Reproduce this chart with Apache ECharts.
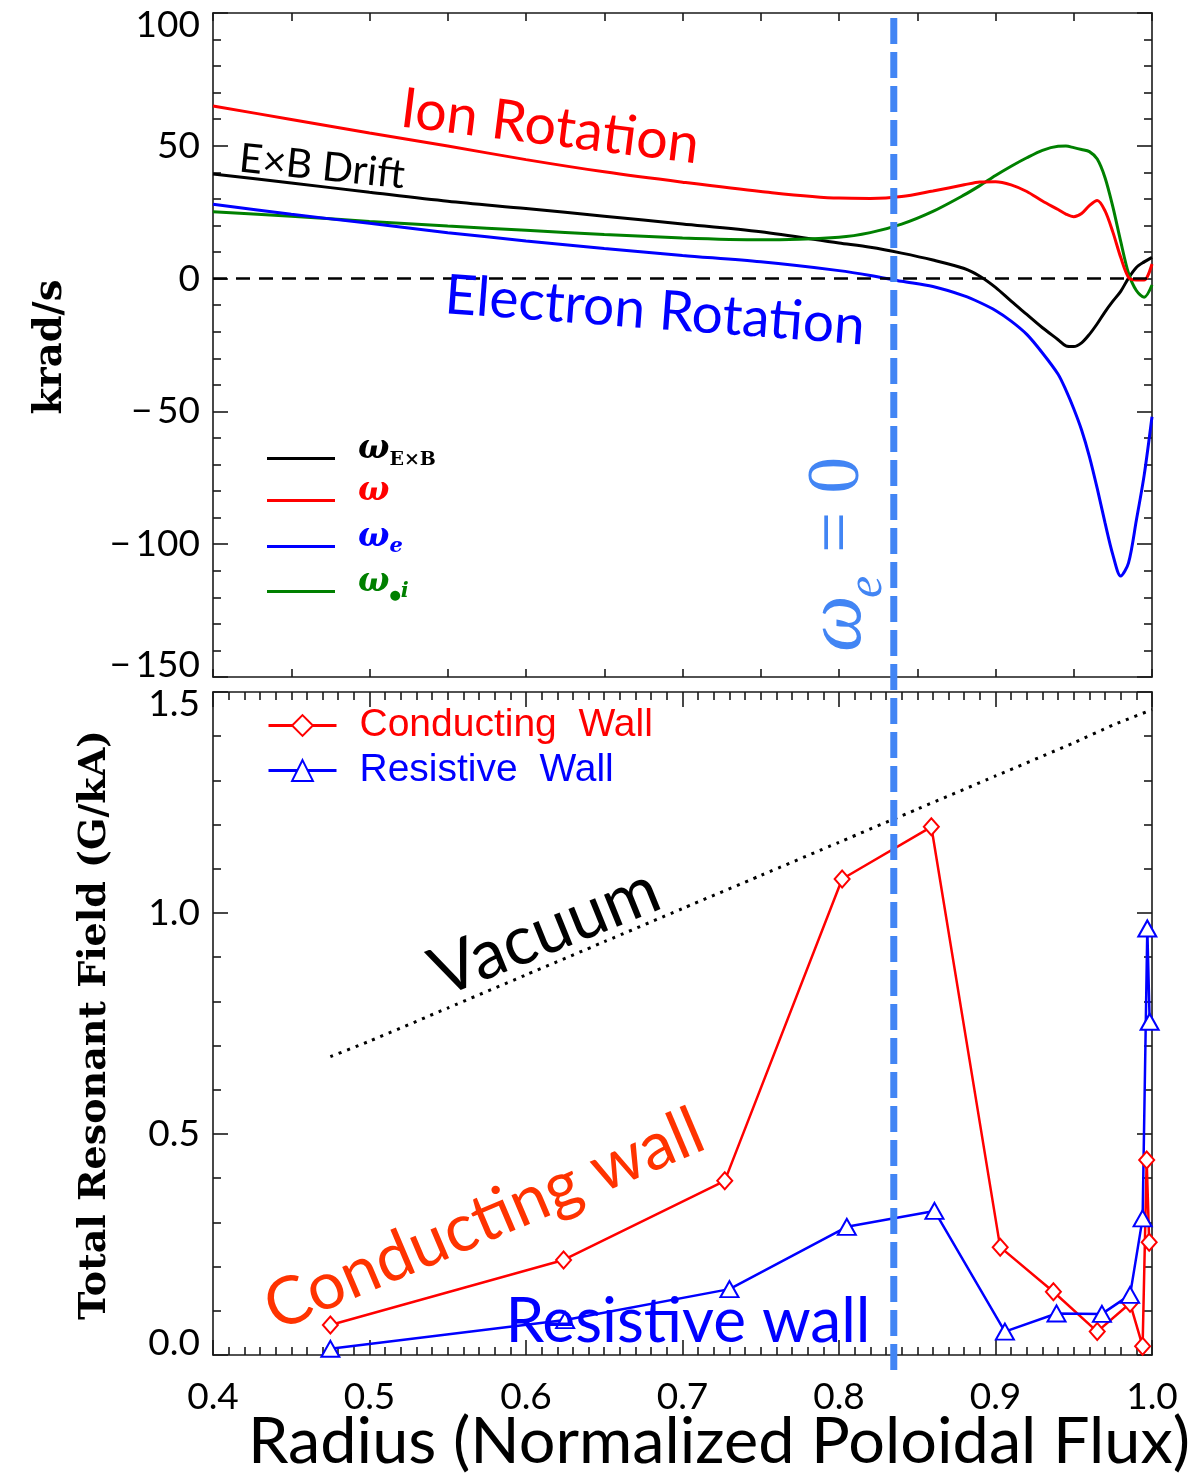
<!DOCTYPE html>
<html>
<head>
<meta charset="utf-8">
<script src="https://cdn.jsdelivr.net/npm/echarts@6/dist/echarts.min.js"></script>
<style>
  html, body { margin: 0; padding: 0; background: #fff; }
  #chart { width: 1199px; height: 1474px; }
</style>
</head>
<body>
<div id="chart"></div>
<script>
// ---- rotation profiles (krad/s) vs normalized poloidal flux ----
const radius = [0.40, 0.45, 0.50, 0.55, 0.60, 0.65, 0.70, 0.75, 0.80, 0.82, 0.84, 0.86, 0.88, 0.89, 0.90,
                0.91, 0.92, 0.93, 0.94, 0.945, 0.95, 0.955, 0.96, 0.965, 0.97, 0.975, 0.98, 0.985, 0.99, 0.995, 1.00];
const omegaExB = [39.4, 36.0, 32.5, 29.1, 26.4, 23.5, 20.6, 17.6, 13.4, 11.8, 9.6, 7.0, 3.8, 0.9, -3.3,
                  -8.5, -13.5, -18.5, -23.0, -25.3, -25.6, -24.2, -21.0, -17.0, -12.5, -8.5, -4.8, 0.2, 4.2, 6.3, 8.0];
const omegaIon = [65.0, 59.9, 54.8, 49.9, 44.8, 40.2, 36.3, 32.8, 30.3, 30.2, 30.9, 33.0, 35.3, 36.4, 36.5,
                  35.3, 32.8, 29.2, 26.0, 24.3, 23.3, 24.5, 27.5, 29.4, 25.5, 17.5, 8.0, 0.5, -0.5, -0.5, 5.5];
const omegaE = [28.0, 24.2, 20.8, 17.3, 14.2, 11.3, 8.7, 6.3, 3.0, 1.2, -1.0, -3.0, -6.5, -9.0, -12.0,
                -16.0, -21.0, -28.0, -36.0, -42.0, -49.0, -57.0, -67.0, -79.0, -92.0, -104.0, -112.0, -107.0, -91.0, -74.0, -52.0];
const omegaStarI = [25.2, 23.5, 21.5, 19.8, 18.2, 16.6, 15.3, 14.6, 15.6, 17.3, 20.5, 25.3, 31.5, 35.0, 38.8,
                    42.3, 45.5, 48.3, 49.8, 49.9, 49.3, 48.6, 47.8, 45.0, 38.0, 27.0, 14.0, 2.0, -4.5, -7.0, -2.4];
// radius where the electron rotation crosses zero
const weZeroRadius = 0.835;

// ---- total resonant field (G/kA) ----
const radiusCond = [0.475, 0.624, 0.727, 0.802, 0.859, 0.903, 0.937, 0.965, 0.986, 0.994, 0.9966, 0.9982];
const fieldCond  = [0.068, 0.215, 0.394, 1.077, 1.195, 0.244, 0.143, 0.053, 0.117, 0.020, 0.441, 0.255];
const radiusRes  = [0.475, 0.625, 0.730, 0.805, 0.861, 0.906, 0.939, 0.968, 0.986, 0.994, 0.997, 0.9985];
const fieldRes   = [0.014, 0.079, 0.149, 0.290, 0.326, 0.053, 0.094, 0.093, 0.136, 0.309, 0.965, 0.754];
const radiusVac  = [0.475, 0.50, 0.55, 0.60, 0.65, 0.70, 0.75, 0.80, 0.85, 0.90, 0.95, 0.975, 1.00];
const fieldVac   = [0.675, 0.71, 0.785, 0.86, 0.935, 1.01, 1.085, 1.16, 1.235, 1.31, 1.385, 1.425, 1.46];

// axis ranges
const xRange = [0.4, 1.0];
const rotRange = [-150, 100];
const fieldRange = [0, 1.5];

const pairs = (xs, ys) => xs.map((x, i) => [x, ys[i]]);

const GEO = 'Lato, "Open Sans", sans-serif';
const SLAB = '"DejaVu Serif", serif';
const AXIS = { color: '#1a1a1a', width: 1.6 };

const chart = echarts.init(document.getElementById('chart'), null, { renderer: 'canvas' });

function xAxisFor(grid, pos, big) {
  return {
    gridIndex: grid, type: 'value', position: pos, min: xRange[0], max: xRange[1],
    interval: big ? 0.1 : 0.05,
    axisLine: { show: true, onZero: false, lineStyle: AXIS },
    axisTick: { show: true, inside: true, length: big ? 15 : 8, lineStyle: AXIS },
    minorTick: { show: big, splitNumber: 10, length: 8, lineStyle: AXIS },
    splitLine: { show: false },
    axisLabel: {
      show: big && pos === 'bottom', margin: 24, fontSize: 37, fontFamily: GEO, color: '#000',
      formatter: v => v.toFixed(1)
    }
  };
}
function yAxisFor(grid, pos, range, step, minorSplit, fmt) {
  return {
    gridIndex: grid, type: 'value', position: pos, min: range[0], max: range[1], interval: step,
    axisLine: { show: true, onZero: false, lineStyle: AXIS },
    axisTick: { show: true, inside: true, length: 15, lineStyle: AXIS },
    minorTick: { show: true, splitNumber: minorSplit, length: 8, lineStyle: AXIS },
    splitLine: { show: false },
    axisLabel: {
      show: pos === 'left', margin: 13, fontSize: 37, lineHeight: 24, fontFamily: GEO, color: '#000',
      formatter: fmt, verticalAlignMaxLabel: 'top', verticalAlignMinLabel: 'bottom'
    }
  };
}

const legendRich = {
  w:  { fontFamily: SLAB, fontWeight: 'bold', fontStyle: 'italic', fontSize: 33, lineHeight: 40 },
  s:  { fontFamily: SLAB, fontWeight: 'bold', fontSize: 19, lineHeight: 12, verticalAlign: 'bottom' },
  si: { fontFamily: SLAB, fontWeight: 'bold', fontStyle: 'italic', fontSize: 21, lineHeight: 12, verticalAlign: 'bottom' },
  d:  { fontFamily: SLAB, fontWeight: 'bold', fontSize: 13, lineHeight: 12, verticalAlign: 'bottom' }
};
const legendText = {
  'ωE×B': '{w|ω}{s|E×B}',
  'ω': '{w|ω}',
  'ωe': '{w|ω}{si|e}',
  'ω*i': '{w|ω}{d|●}{si|i}'
};
function rotLegend(name, color, lineY) {
  return {
    data: [name], left: 262, top: lineY - 29, icon: 'rect', itemWidth: 68, itemHeight: 3,
    selectedMode: false, formatter: n => legendText[n],
    textStyle: { color: color, padding: [0, 0, 18, 18], rich: legendRich }
  };
}
function fieldLegend(name, color, lineY) {
  return {
    data: [name], left: 262, top: lineY - 34, itemWidth: 68, itemHeight: 26,
    selectedMode: false,
    lineStyle: { width: 3 },
    itemStyle: { borderWidth: 2 },
    textStyle: { color: color, fontFamily: '"Liberation Sans", Arial, sans-serif', fontSize: 39,
                 padding: [0, 0, 22, 18] }
  };
}

const rotLine = (name, data, color) => ({
  name, type: 'line', xAxisIndex: 0, yAxisIndex: 0, data, showSymbol: false, smooth: 0.3,
  lineStyle: { color, width: 3 }, itemStyle: { color }
});

chart.setOption({
  animation: false,
  backgroundColor: '#ffffff',
  grid: [
    { left: 213, top: 13, width: 939, height: 664 },
    { left: 213, top: 692, width: 939, height: 663 }
  ],
  xAxis: [
    xAxisFor(0, 'bottom', false), xAxisFor(0, 'top', false),
    xAxisFor(1, 'bottom', true), xAxisFor(1, 'top', true)
  ],
  yAxis: [
    yAxisFor(0, 'left', rotRange, 50, 5, v => v < 0 ? '\u2212\u2009' + Math.abs(v) : String(v)),
    yAxisFor(0, 'right', rotRange, 50, 5, v => String(v)),
    yAxisFor(1, 'left', fieldRange, 0.5, 5, v => v.toFixed(1)),
    yAxisFor(1, 'right', fieldRange, 0.5, 5, v => v.toFixed(1))
  ],
  legend: [
    rotLegend('ωE×B', '#000000', 457),
    rotLegend('ω', '#ff0000', 499),
    rotLegend('ωe', '#0000ff', 545),
    rotLegend('ω*i', '#008000', 590),
    fieldLegend('Conducting  Wall', '#ff0000', 735),
    fieldLegend('Resistive  Wall', '#0000ff', 780)
  ],
  series: [
    Object.assign(rotLine('ωE×B', pairs(radius, omegaExB), '#000000'), {
      markLine: {
        silent: true, symbol: 'none', label: { show: false },
        lineStyle: { color: '#000', width: 2.6, type: [14, 9] },
        data: [{ yAxis: 0 }]
      }
    }),
    rotLine('ω*i', pairs(radius, omegaStarI), '#008000'),
    rotLine('ωe', pairs(radius, omegaE), '#0000ff'),
    rotLine('ω', pairs(radius, omegaIon), '#ff0000'),
    {
      name: 'Vacuum', type: 'line', xAxisIndex: 2, yAxisIndex: 2, data: pairs(radiusVac, fieldVac),
      showSymbol: false, smooth: 0.2,
      lineStyle: { color: '#000', width: 3, type: [3, 6] }
    },
    {
      name: 'Conducting  Wall', type: 'line', xAxisIndex: 2, yAxisIndex: 2, data: pairs(radiusCond, fieldCond),
      symbol: 'emptyDiamond', symbolSize: [15, 17], showAllSymbol: true,
      lineStyle: { color: '#ff0000', width: 2.5 },
      itemStyle: { color: '#ff0000', borderColor: '#ff0000', borderWidth: 2 }
    },
    {
      name: 'Resistive  Wall', type: 'line', xAxisIndex: 2, yAxisIndex: 2, data: pairs(radiusRes, fieldRes),
      symbol: 'emptyTriangle', symbolSize: [18, 16], showAllSymbol: true,
      lineStyle: { color: '#0000ff', width: 2.5 },
      itemStyle: { color: '#0000ff', borderColor: '#0000ff', borderWidth: 2 }
    }
  ]
});

// ---- annotations ----
const measureCtx = document.createElement('canvas').getContext('2d');
const deg = Math.PI / 180;
// text centred at (cx, cy), rotated, with its font size chosen to span the given width
function label(text, cx, cy, rotDeg, width, color, font, weight) {
  const pre = weight ? weight + ' ' : '';
  measureCtx.font = pre + '100px ' + font;
  const size = 100 * width / measureCtx.measureText(text).width;
  return {
    type: 'text', x: cx, y: cy, rotation: rotDeg * deg, z: 50,
    style: {
      text, fill: color, align: 'center', verticalAlign: 'middle',
      font: pre + size.toFixed(1) + 'px ' + font
    }
  };
}

const xLine = chart.convertToPixel({ xAxisIndex: 0 }, weZeroRadius);
const yTop = chart.convertToPixel({ yAxisIndex: 0 }, rotRange[1]);
const yBottom = chart.convertToPixel({ yAxisIndex: 2 }, fieldRange[0]);
const lineBlue = '#4285f4';

const graphics = [
  label('Ion Rotation', 550, 127, -7.1, 300, '#ff0000', GEO),
  label('E×B Drift', 322, 167, -5.8, 166, '#000000', GEO),
  label('Electron Rotation', 655, 311, -4.3, 421, '#0000ff', GEO),
  label('Vacuum', 545, 932, 22, 240, '#000000', GEO),
  label('Conducting wall', 484, 1220, 23, 470, '#ff3300', GEO),
  label('Resistive wall', 688, 1322, 0, 365, '#0000ff', GEO),
  label('Radius (Normalized Poloidal Flux)', 719, 1442, 0, 942, '#000000', GEO),
  label('krad/s', 51, 347, 90, 135, '#000000', SLAB, 'bold'),
  label('Total Resonant Field (G/kA)', 95, 1025, 90, 590, '#000000', SLAB, 'bold'),
  {
    type: 'line', z: 60,
    shape: { x1: xLine, y1: yTop + 5, x2: xLine, y2: yBottom + 22 },
    style: { stroke: lineBlue, lineWidth: 7, lineDash: [26, 8] }
  },
  {
    type: 'group', x: 847, y: 554, rotation: 90 * deg, z: 60,
    children: [
      { type: 'text', x: -98, y: -8, z: 60,
        style: { text: 'ω', fill: lineBlue, align: 'left', verticalAlign: 'middle',
                 font: 'italic 80px "Liberation Serif", serif' } },
      { type: 'text', x: -44, y: 21, z: 60,
        style: { text: 'e', fill: lineBlue, align: 'left', verticalAlign: 'middle',
                 font: 'italic 50px "Liberation Serif", serif' } },
      { type: 'text', x: 1, y: -8, z: 60,
        style: { text: '= 0', fill: lineBlue, align: 'left', verticalAlign: 'middle',
                 font: '73px "Liberation Serif", serif' } }
    ]
  }
];
chart.setOption({ graphic: graphics });
</script>
</body>
</html>
